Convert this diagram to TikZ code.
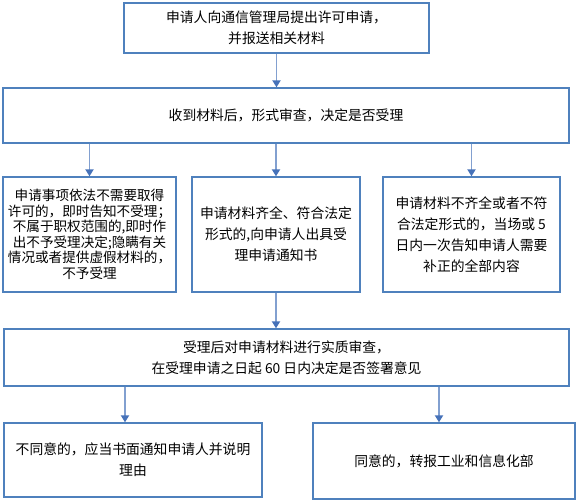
\documentclass[tikz,border=0pt]{standalone}
\usepackage{fontspec}
\setmainfont{Noto Sans CJK SC}
\usetikzlibrary{positioning,arrows.meta,calc}
\definecolor{boxblue}{RGB}{79,129,189}
\definecolor{shaftblue}{RGB}{130,160,208}
\definecolor{headblue}{RGB}{70,114,185}
\tikzset{
  box/.style={rectangle, draw=boxblue, line width=1.3pt, align=center,
              inner sep=2pt, font=\fontsize{13.8}{21}\selectfont},
  tight/.style={font=\fontsize{13.6}{15.5}\selectfont},
  flow/.style={draw=shaftblue, line width=1.8pt,
               -{Triangle[length=7pt,width=8pt,color=headblue]}},
}

\begin{document}
\begin{tikzpicture}[x=1pt,y=-1pt]
  \useasboundingbox (0,0) rectangle (578,503);
  \node[box, minimum width=305pt, minimum height=50pt] (apply) at (276.5,28)
    {申请人向通信管理局提出许可申请，\\并报送相关材料};
  \node[box, minimum width=566pt, minimum height=55pt] (check) at (286,115.5)
    {收到材料后，形式审查，决定是否受理};
  % three outcomes of the formal check
  \node[box, tight, minimum width=173pt, minimum height=115pt] (reject) at (89.5,234.5)
    {申请事项依法不需要取得\\许可的，即时告知不受理；\\不属于职权范围的,即时作\\出不予受理决定;隐瞒有关\\情况或者提供虚假材料的，\\不予受理};
  \node[box, minimum width=168pt, minimum height=115pt] (accept) at (276,234.5)
    {申请材料齐全、符合法定\\形式的,向申请人出具受\\理申请通知书};
  \node[box, minimum width=177pt, minimum height=115pt] (supply) at (471.5,234.5)
    {申请材料不齐全或者不符\\合法定形式的，当场或 5\\日内一次告知申请人需要\\补正的全部内容};
  \node[box, minimum width=565pt, minimum height=57pt] (review) at (286.5,357.5)
    {受理后对申请材料进行实质审查，\\在受理申请之日起 60 日内决定是否签署意见};
  \node[box, minimum width=258pt, minimum height=74pt] (deny) at (133,460)
    {不同意的，应当书面通知申请人并说明\\理由};
  \node[box, minimum width=262pt, minimum height=76pt] (agree) at (444,461)
    {同意的，转报工业和信息化部};
  \draw[flow] (apply.south) -- (apply.south |- check.north);
  \draw[flow] (check.south -| reject.north) -- (reject.north);
  \draw[flow] (check.south -| accept.north) -- (accept.north);
  \draw[flow] (check.south -| supply.north) -- (supply.north);
  \draw[flow] (accept.south) -- (accept.south |- review.north);
  \draw[flow] ($(review.south -| deny.north)+(-8,0)$) -- ($(deny.north)+(-8,0)$);
  \draw[flow] ($(review.south -| agree.north)+(-5,0)$) -- ($(agree.north)+(-5,0)$);
\end{tikzpicture}
\end{document}
